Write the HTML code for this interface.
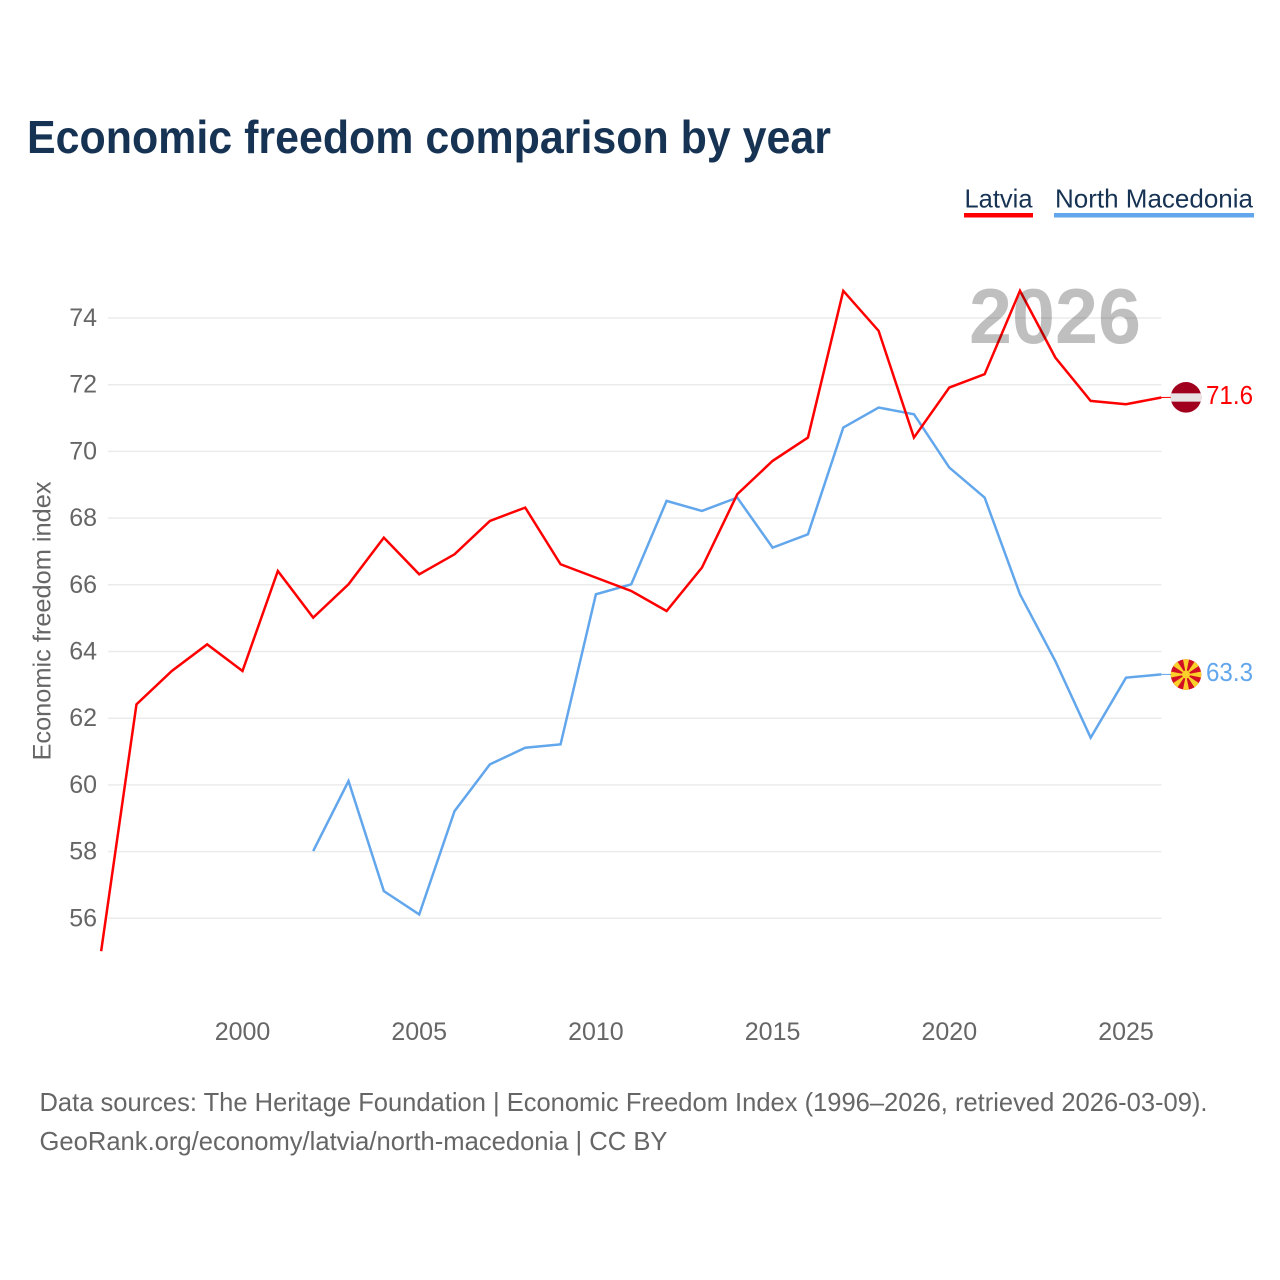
<!DOCTYPE html>
<html lang="en">
<head>
<meta charset="utf-8">
<title>Economic freedom comparison by year</title>
<style>
  html, body { margin: 0; padding: 0; background: #fff; }
  svg { display: block; font-family: "Liberation Sans", "DejaVu Sans", sans-serif; }
</style>
</head>
<body>
<svg id="chart" xmlns="http://www.w3.org/2000/svg" width="1280" height="1280" viewBox="0 0 1280 1280">
  <rect x="0" y="0" width="1280" height="1280" fill="#ffffff"/>
  <text x="27" y="153" font-size="46" font-weight="700" fill="#173354" textLength="804" lengthAdjust="spacingAndGlyphs">Economic freedom comparison by year</text>

  <g>
    <g>
      <text x="964.5" y="207.5" font-size="26" fill="#173354" textLength="68" lengthAdjust="spacingAndGlyphs">Latvia</text>
      <rect x="964" y="213" width="69" height="4.5" fill="#ff0000"/>
    </g>
    <g>
      <text x="1055" y="207.5" font-size="26" fill="#173354" textLength="198" lengthAdjust="spacingAndGlyphs">North Macedonia</text>
      <rect x="1054" y="213" width="200" height="4.5" fill="#62a6ec"/>
    </g>
  </g>

  <g id="grid"></g>
  <g id="y-ticks"></g>
  <g id="x-ticks"></g>
  <text transform="translate(50.5,621) rotate(-90)" text-anchor="middle" font-size="25" fill="#666666" textLength="279" lengthAdjust="spacingAndGlyphs">Economic freedom index</text>

  <g id="series"></g>

  <text x="969" y="343" font-size="78" font-weight="700" fill="#000000" fill-opacity="0.25" textLength="172" lengthAdjust="spacingAndGlyphs">2026</text>

  <g id="end-labels"></g>

  <g>
    <text x="39.5" y="1111" font-size="26" fill="#666666" textLength="1168" lengthAdjust="spacingAndGlyphs">Data sources: The Heritage Foundation | Economic Freedom Index (1996–2026, retrieved 2026-03-09).</text>
    <text x="39.5" y="1150" font-size="26" fill="#666666" textLength="628" lengthAdjust="spacingAndGlyphs">GeoRank.org/economy/latvia/north-macedonia | CC BY</text>
  </g>
</svg>
<script>
const years = [1996,1997,1998,1999,2000,2001,2002,2003,2004,2005,2006,2007,2008,2009,2010,2011,2012,2013,2014,2015,2016,2017,2018,2019,2020,2021,2022,2023,2024,2025,2026];
const latviaValues = [55.0,62.4,63.4,64.2,63.4,66.4,65.0,66.0,67.4,66.3,66.9,67.9,68.3,66.6,66.2,65.8,65.2,66.5,68.7,69.7,70.4,74.8,73.6,70.4,71.9,72.3,74.8,72.8,71.5,71.4,71.6];
const macedoniaValues = [null,null,null,null,null,null,58.0,60.1,56.8,56.1,59.2,60.6,61.1,61.2,65.7,66.0,68.5,68.2,68.6,67.1,67.5,70.7,71.3,71.1,69.5,68.6,65.7,63.7,61.4,63.2,63.3];
const yTickValues = [56,58,60,62,64,66,68,70,72,74];
const xTickValues = [2000,2005,2010,2015,2020,2025];

const NS = 'http://www.w3.org/2000/svg';
function xScale(year) { return 242.5 + (year - 2000) * 35.34; }
function yScale(value) { return 318 + (74 - value) * 33.35; }
function make(tag, attrs, parent) {
  const el = document.createElementNS(NS, tag);
  Object.keys(attrs).forEach(function (k) { el.setAttribute(k, attrs[k]); });
  parent.appendChild(el);
  return el;
}

const grid = document.getElementById('grid');
const yTicks = document.getElementById('y-ticks');
yTickValues.forEach(function (v) {
  const line = make('line', { x1: 108, x2: 1161.5, y1: yScale(v), y2: yScale(v), stroke: '#ebebeb', 'stroke-width': 1.5 }, grid);
  
  
  const label = make('text', { x: 97, y: yScale(v) + 8, 'text-anchor': 'end', 'font-size': 25, fill: '#666666' }, yTicks);
  
  
  label.textContent = String(v);
});

const xTicks = document.getElementById('x-ticks');
xTickValues.forEach(function (yr) {
  const label = make('text', { x: xScale(yr), y: 1040, 'text-anchor': 'middle', 'font-size': 25, fill: '#666666' }, xTicks);
  
  
  label.textContent = String(yr);
});

function pathFor(values) {
  let d = '';
  values.forEach(function (v, i) {
    if (v === null) return;
    d += (d === '' ? 'M' : 'L') + xScale(years[i]).toFixed(2) + ' ' + (yScale(v) - 0.5).toFixed(2);
  });
  return d;
}
const seriesGroup = document.getElementById('series');
const macedoniaLine = make('path', { d: pathFor(macedoniaValues), fill: 'none', stroke: '#62a6ec', 'stroke-width': 2.5, 'stroke-linejoin': 'miter' }, seriesGroup);


const latviaLine = make('path', { d: pathFor(latviaValues), fill: 'none', stroke: '#ff0000', 'stroke-width': 2.5, 'stroke-linejoin': 'miter' }, seriesGroup);



const endGroup = document.getElementById('end-labels');
const lastX = xScale(years[years.length - 1]);
const latviaLast = latviaValues[latviaValues.length - 1];
const macedoniaLast = macedoniaValues[macedoniaValues.length - 1];
const flagX = 1186;
const latviaY = yScale(latviaLast) - 0.7;
const macedoniaY = yScale(macedoniaLast) - 0.3;

const latviaConnector = make('line', { x1: lastX, x2: flagX - 15, y1: yScale(latviaLast) - 0.5, y2: latviaY, stroke: '#ff0000', 'stroke-width': 1 }, endGroup);


const macedoniaConnector = make('line', { x1: lastX, x2: flagX - 15, y1: yScale(macedoniaLast) - 0.5, y2: macedoniaY, stroke: '#62a6ec', 'stroke-width': 1 }, endGroup);



const defs = make('defs', {}, endGroup);
const clipA = make('clipPath', { id: 'flag-clip-lv' }, defs);
make('circle', { cx: flagX, cy: latviaY, r: 15.3 }, clipA);
const clipB = make('clipPath', { id: 'flag-clip-mk' }, defs);
make('circle', { cx: flagX, cy: macedoniaY, r: 15.3 }, clipB);

const latviaFlag = make('g', { 'clip-path': 'url(#flag-clip-lv)' }, endGroup);


make('rect', { x: flagX - 16, y: latviaY - 16, width: 32, height: 32, fill: '#a0001e' }, latviaFlag);
make('rect', { x: flagX - 16, y: latviaY - 4, width: 32, height: 8.3, fill: '#e8e4e6' }, latviaFlag);

const macedoniaFlag = make('g', { 'clip-path': 'url(#flag-clip-mk)' }, endGroup);


make('rect', { x: flagX - 16, y: macedoniaY - 16, width: 32, height: 32, fill: '#d20f23' }, macedoniaFlag);
[0, 45, 90, 135, 180, 225, 270, 315].forEach(function (deg) {
  make('path', {
    d: 'M0 0L-3.4 -17L3.4 -17Z',
    fill: '#fbd02a',
    transform: 'translate(' + flagX + ',' + macedoniaY + ') rotate(' + deg + ')'
  }, macedoniaFlag);
});
make('circle', { cx: flagX, cy: macedoniaY, r: 4, fill: '#fbd02a' }, macedoniaFlag);

const latviaValueLabel = make('text', { x: 1206, y: latviaY + 6.5, 'font-size': 26, fill: '#ff0000', textLength: 47, lengthAdjust: 'spacingAndGlyphs' }, endGroup);


latviaValueLabel.textContent = latviaLast.toFixed(1);
const macedoniaValueLabel = make('text', { x: 1206, y: macedoniaY + 6.5, 'font-size': 26, fill: '#62a6ec', textLength: 47, lengthAdjust: 'spacingAndGlyphs' }, endGroup);


macedoniaValueLabel.textContent = macedoniaLast.toFixed(1);
</script>
</body>
</html>
